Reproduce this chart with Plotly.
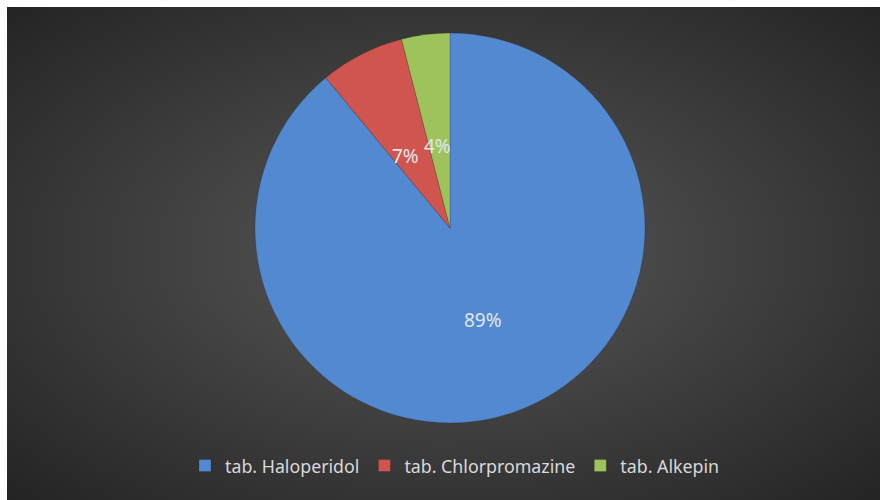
import math, base64
import plotly.graph_objects as go

labels = ["tab. Haloperidol", "tab. Chlorpromazine", "tab. Alkepin"]
values = [89, 7, 4]
colors = ["#5289d0", "#d0554f", "#9ec35b"]

W, H = 880, 500
B = 7                      # white page border at top/left (figure is offset by it)
CX, CY, R = 450 - B, 228 - B, 195  # pie centre / radius in figure px (layout)

svg = (
    '<svg xmlns="http://www.w3.org/2000/svg" width="880" height="500" preserveAspectRatio="none">'
    '<defs><radialGradient id="g" cx="0.5" cy="0.49" r="0.7">'
    '<stop offset="0" stop-color="#595959"/><stop offset="1" stop-color="#242424"/>'
    '</radialGradient></defs><rect width="880" height="500" fill="url(#g)"/></svg>'
)
src = "data:image/svg+xml;base64," + base64.b64encode(svg.encode()).decode()

fig = go.Figure()
fig.add_trace(go.Pie(
    labels=labels, values=values, sort=False, direction="clockwise", rotation=0,
    marker=dict(colors=colors, line=dict(color="rgba(30,30,30,0.35)", width=0.6)),
    textinfo="none", hoverinfo="label+percent",
    domain=dict(x=[(CX - R) / W, (CX + R) / W], y=[(H - CY - R) / H, (H - CY + R) / H]),
))

total = sum(values)
annotations = []
cum = 0
for v in values:
    mid = (cum + v / 2) / total * 2 * math.pi
    cum += v
    px = CX + 0.5 * R * math.sin(mid)
    py = CY - 0.5 * R * math.cos(mid)
    annotations.append(dict(
        x=px / W, y=1 - py / H, xref="paper", yref="paper",
        text=f"{round(v / total * 100)}%", showarrow=False,
        font=dict(family="Noto Sans", size=19, color="#e2e6ec"),
    ))

fig.update_layout(
    width=W, height=H, margin=dict(l=0, r=0, t=0, b=0),
    paper_bgcolor="#2c2c2c", plot_bgcolor="rgba(0,0,0,0)",
    images=[dict(source=src, xref="paper", yref="paper", x=0, y=1,
                 sizex=1, sizey=1, sizing="stretch",
                 xanchor="left", yanchor="top", layer="below")],
    annotations=annotations,
    showlegend=True,
    legend=dict(orientation="h", x=(458 - B - 3) / W, xanchor="center",
                y=1 - (466 - B) / H, yanchor="middle",
                font=dict(family="Noto Sans", size=17.8, color="#d9d9d9"),
                bgcolor="rgba(0,0,0,0)", itemwidth=30),
)
fig.write_html(
    "out.html",
    config={"displayModeBar": False},
    post_script="document.body.style.margin='7px 0 0 7px';document.body.style.overflow='hidden';",
)
